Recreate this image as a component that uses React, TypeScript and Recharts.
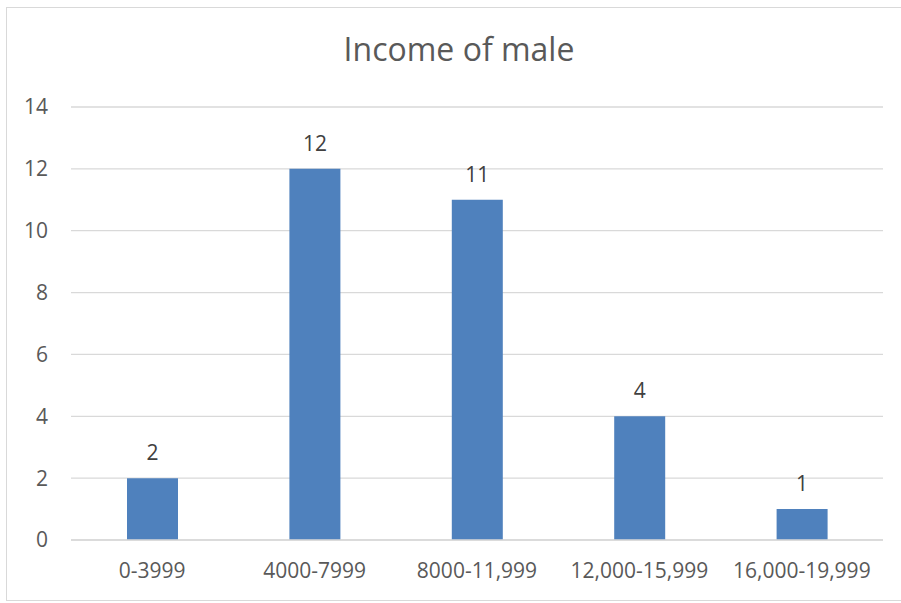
import React from 'react';
import { BarChart, Bar, XAxis, YAxis, CartesianGrid, LabelList } from 'recharts';

const categories = ['0-3999', '4000-7999', '8000-11,999', '12,000-15,999', '16,000-19,999'];
const counts = [2, 12, 11, 4, 1];
const yTicks = [0, 2, 4, 6, 8, 10, 12, 14];

const data = categories.map((range, i) => ({ range, count: counts[i] }));

const FONT = '"Open Sans", sans-serif';

export default function App() {
  return (
    <div
      style={{
        position: 'absolute',
        left: 0,
        top: 0,
        width: 901,
        height: 603,
        overflow: 'hidden',
        background: '#fff',
        fontFamily: FONT,
      }}
    >
      {/* chart frame, runs off the right edge like the screenshot */}
      <div
        style={{
          position: 'absolute',
          left: 6,
          top: 7,
          width: 910,
          height: 594,
          border: '1px solid #D9D9D9',
          boxSizing: 'border-box',
        }}
      />
      <div
        style={{
          position: 'absolute',
          left: 6,
          top: 27,
          width: 906,
          textAlign: 'center',
          fontSize: 32,
          color: '#595959',
          lineHeight: '44px',
        }}
      >
        Income of male
      </div>
      <div style={{ position: 'absolute', left: 0, top: 0 }}>
        <BarChart
          width={901}
          height={603}
          data={data}
          margin={{ top: 107, right: 18, bottom: 0, left: 0 }}
        >
          <CartesianGrid vertical={false} stroke="#D9D9D9" strokeWidth={1.3} />
          <XAxis
            dataKey="range"
            height={63}
            tickLine={false}
            tickSize={0}
            tickMargin={23}
            axisLine={{ stroke: '#D9D9D9', strokeWidth: 1.3 }}
            tick={{ fill: '#595959', fontSize: 21, fontFamily: FONT }}
            interval={0}
          />
          <YAxis
            width={71}
            domain={[0, 14]}
            ticks={yTicks}
            tickLine={false}
            axisLine={false}
            tickSize={0}
            tickMargin={23}
            tick={{ fill: '#595959', fontSize: 21, fontFamily: FONT }}
          />
          <Bar dataKey="count" fill="#4F81BD" barSize={51} isAnimationActive={false}>
            <LabelList
              dataKey="count"
              position="top"
              offset={18}
              fill="#404040"
              fontSize={21}
              fontFamily={FONT}
            />
          </Bar>
        </BarChart>
      </div>
    </div>
  );
}
